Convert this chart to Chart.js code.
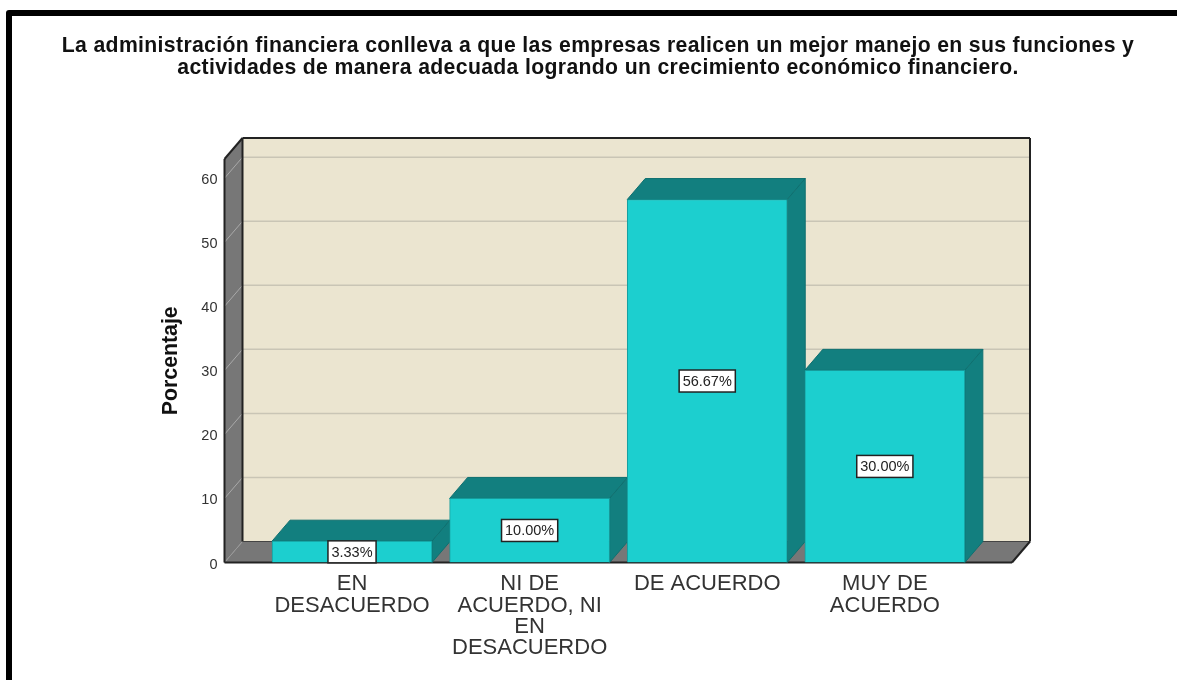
<!DOCTYPE html>
<html>
<head>
<meta charset="utf-8">
<title>Porcentaje</title>
<style>
  html, body { margin: 0; padding: 0; background: #fff; overflow: hidden; }
  canvas { display: block; }
</style>
<script src="https://cdn.jsdelivr.net/npm/chart.js@4/dist/chart.umd.min.js"></script>
</head>
<body>
<canvas id="chart" width="1177" height="680"></canvas>
<script>
const titleLines = [
  "La administración financiera conlleva a que las empresas realicen un mejor manejo en sus funciones y",
  "actividades de manera adecuada logrando un crecimiento económico financiero."
];
const categories = [
  ["EN", "DESACUERDO"],
  ["NI DE", "ACUERDO, NI", "EN", "DESACUERDO"],
  ["DE ACUERDO"],
  ["MUY DE", "ACUERDO"]
];
const values = [3.33, 10.0, 56.67, 30.0];
const yTicks = [0, 10, 20, 30, 40, 50, 60];
const axisTitle = "Porcentaje";

// depth of the fake 3D box, pixels
const DX = 18;
const DY = 21;

function poly(ctx, pts, fill, stroke, lw) {
  ctx.beginPath();
  pts.forEach((p, i) => i ? ctx.lineTo(p[0], p[1]) : ctx.moveTo(p[0], p[1]));
  ctx.closePath();
  if (fill) { ctx.fillStyle = fill; ctx.fill(); }
  if (stroke) { ctx.strokeStyle = stroke; ctx.lineWidth = lw || 1; ctx.stroke(); }
}

function line(ctx, x1, y1, x2, y2, color, lw) {
  ctx.beginPath();
  ctx.moveTo(x1, y1);
  ctx.lineTo(x2, y2);
  ctx.strokeStyle = color;
  ctx.lineWidth = lw;
  ctx.stroke();
}

// frame, walls and floor behind the bars, then the top and side of each bar
const box3d = {
  id: "box3d",
  afterLayout(chart) {
    // the title is centred on the whole frame, not on the plot, and set wide
    const block = chart.titleBlock;
    block.left = 19;
    block.right = 1177;
    const drawTitle = block.draw;
    block.draw = function () {
      chart.ctx.letterSpacing = "0.35px";
      drawTitle.call(block);
      chart.ctx.letterSpacing = "0px";
    };
  },
  beforeDatasetsDraw(chart) {
    const ctx = chart.ctx;
    const a = chart.chartArea;
    const y = chart.scales.y;
    ctx.save();

    // outer frame, cut by the right and bottom of the picture
    ctx.lineJoin = "round";
    ctx.beginPath();
    ctx.moveTo(9, 690);
    ctx.lineTo(9, 13);
    ctx.lineTo(1190, 13);
    ctx.strokeStyle = "#000";
    ctx.lineWidth = 6;
    ctx.stroke();
    ctx.lineJoin = "miter";

    poly(ctx, [[a.left + DX, a.top - DY], [a.right + DX, a.top - DY], [a.right + DX, a.bottom - DY], [a.left + DX, a.bottom - DY]], "#ebe5d0");
    poly(ctx, [[a.left, a.top], [a.left + DX, a.top - DY], [a.left + DX, a.bottom - DY], [a.left, a.bottom]], "#777777");
    poly(ctx, [[a.left, a.bottom], [a.left + DX, a.bottom - DY], [a.right + DX, a.bottom - DY], [a.right, a.bottom]], "#777777");

    yTicks.slice(1).forEach(v => {
      const py = y.getPixelForValue(v);
      line(ctx, a.left + DX, py - DY, a.right + DX, py - DY, "#c9c5b5", 1.5);
      line(ctx, a.left, py, a.left + DX, py - DY, "#a9a9a9", 1);
    });
    line(ctx, a.left, a.bottom, a.left + DX, a.bottom - DY, "#999999", 1);

    line(ctx, a.left + DX, a.top - DY, a.right + DX, a.top - DY, "#222", 2);
    line(ctx, a.right + DX, a.top - DY, a.right + DX, a.bottom - DY, "#222", 2);
    line(ctx, a.left + DX, a.top - DY, a.left + DX, a.bottom - DY, "#222", 2);
    line(ctx, a.left, a.top, a.left + DX, a.top - DY, "#222", 2);
    line(ctx, a.left, a.top, a.left, a.bottom, "#222", 2);
    line(ctx, a.left + DX, a.bottom - DY, a.right + DX, a.bottom - DY, "#444", 1);
    line(ctx, a.right, a.bottom, a.right + DX, a.bottom - DY, "#222", 2);
    line(ctx, a.left, a.bottom, a.right, a.bottom, "#222", 2);

    chart.getDatasetMeta(0).data.forEach(bar => {
      const l = bar.x - bar.width / 2;
      const r = bar.x + bar.width / 2;
      const t = bar.y;
      const b = bar.base;
      poly(ctx, [[l, t], [l + DX, t - DY], [r + DX, t - DY], [r, t]], "#127f7f", "#0f7070", 1);
      poly(ctx, [[r, t], [r + DX, t - DY], [r + DX, b - DY], [r, b]], "#127f7f", "#0f7070", 1);
    });
    ctx.restore();
  },
  afterDatasetsDraw(chart) {
    const ctx = chart.ctx;
    ctx.save();
    ctx.font = "14.5px 'Liberation Sans', Arial, sans-serif";
    ctx.textAlign = "center";
    ctx.textBaseline = "middle";
    chart.getDatasetMeta(0).data.forEach((bar, i) => {
      const text = values[i].toFixed(2) + "%";
      const w = ctx.measureText(text).width + 7;
      const h = 22;
      const cy = (bar.y + bar.base) / 2;
      ctx.fillStyle = "#fff";
      ctx.fillRect(bar.x - w / 2, cy - h / 2, w, h);
      ctx.strokeStyle = "#222";
      ctx.lineWidth = 1.5;
      ctx.strokeRect(bar.x - w / 2, cy - h / 2, w, h);
      ctx.fillStyle = "#222";
      ctx.fillText(text, bar.x, cy + 1);
    });
    ctx.restore();
  }
};

new Chart(document.getElementById("chart"), {
  type: "bar",
  data: {
    labels: categories,
    datasets: [{
      label: axisTitle,
      data: values.map((v, i) => ({ x: i, y: v })),
      backgroundColor: "#1ccfcf",
      borderColor: "#169c9c",
      borderWidth: 1,
      barThickness: 160
    }]
  },
  options: {
    responsive: false,
    animation: false,
    layout: { padding: { left: 19, right: 165, top: 0, bottom: 0 } },
    plugins: {
      legend: { display: false },
      tooltip: { enabled: false },
      title: {
        display: true,
        text: titleLines,
        color: "#111",
        font: { family: "'Liberation Sans', Arial, sans-serif", size: 21.2, weight: "bold", lineHeight: "22px" },
        padding: { top: 35, bottom: 80 }
      }
    },
    scales: {
      x: {
        type: "linear",
        offset: false,
        min: -0.718,
        max: 3.716,
        grid: { display: false, drawTicks: false },
        border: { display: false },
        afterBuildTicks: scale => { scale.ticks = categories.map((c, i) => ({ value: i })); },
        afterFit: scale => { scale.height = 117.5; },
        ticks: {
          autoSkip: false,
          maxRotation: 0,
          minRotation: 0,
          padding: 11,
          color: "#333",
          font: { family: "'Liberation Sans', Arial, sans-serif", size: 22, lineHeight: "21.3px" },
          callback: v => categories[v]
        }
      },
      y: {
        min: 0,
        max: 63,
        grid: { display: false, drawTicks: false },
        border: { display: false },
        afterFit: scale => { scale.width = 205.5; },
        ticks: {
          stepSize: 10,
          includeBounds: false,
          padding: 7,
          labelOffset: 2,
          color: "#333",
          font: { family: "'Liberation Sans', Arial, sans-serif", size: 14.5 }
        },
        title: {
          display: true,
          text: axisTitle,
          color: "#111",
          font: { family: "'Liberation Sans', Arial, sans-serif", size: 21.3, weight: "bold", lineHeight: 1.2 },
          padding: { top: 139, bottom: 0 }
        }
      }
    }
  },
  plugins: [box3d]
});
</script>
</body>
</html>
